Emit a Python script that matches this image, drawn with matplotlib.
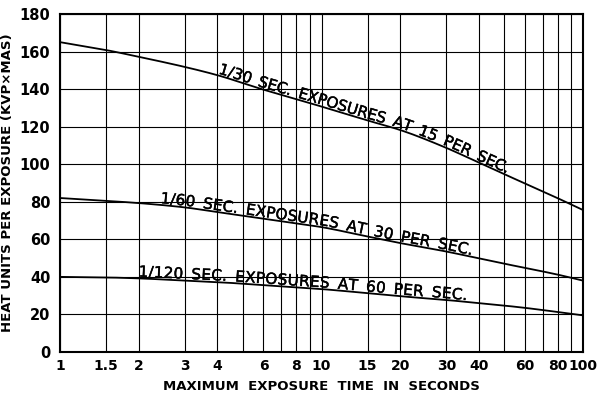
import numpy as np
import matplotlib
matplotlib.use("Agg")
import matplotlib.pyplot as plt
import matplotlib.patheffects as pe
from matplotlib.font_manager import FontProperties

# Maximum exposure time (s) and heat units per exposure for each cine rate
exposure_time = [1, 1.5, 2, 3, 4, 6, 8, 10, 15, 20, 30, 40, 50, 60, 80, 100]
hu_30_sec = [165, 160.8, 157.2, 151.8, 147.4, 139.7, 134.7, 130.7, 123.3, 118.2, 108.7, 100.8, 94.7, 89.7, 81.9, 75.6]
hu_60_sec = [82, 80.5, 79.3, 77, 74.5, 71, 68.5, 66.5, 61.5, 58, 53.5, 49.8, 47, 44.8, 41.2, 38]
hu_120_sec = [40, 39.7, 39.2, 38, 37.2, 35.6, 34.4, 33.5, 31.3, 29.7, 27.7, 26, 24.7, 23.5, 21.3, 19.5]

series_labels = [
    "1/30 SEC. EXPOSURES AT 15 PER SEC.",
    "1/60 SEC. EXPOSURES AT 30 PER SEC.",
    "1/120 SEC. EXPOSURES AT 60 PER SEC.",
]
# x range (s) covered by each curve label
label_spans = [(4.0, 51.0), (2.41, 37.5), (1.99, 36.0)]

x_grid = [1, 1.5, 2, 3, 4, 5, 6, 7, 8, 9, 10, 15, 20, 30, 40, 50, 60, 70, 80, 90, 100]
x_tick_labels = ["1", "1.5", "2", "3", "4", "", "6", "", "8", "", "10", "15", "20",
                 "30", "40", "", "60", "", "80", "", "100"]
y_ticks = [0, 20, 40, 60, 80, 100, 120, 140, 160, 180]


def smooth_curve(xs, ys, n=400):
    """Monotone cubic (Fritsch-Carlson) interpolation in log-x."""
    lx = np.log10(np.asarray(xs, float))
    y = np.asarray(ys, float)
    h = np.diff(lx)
    d = np.diff(y) / h
    m = np.zeros_like(y)
    m[0], m[-1] = d[0], d[-1]
    for k in range(1, len(y) - 1):
        if d[k - 1] * d[k] <= 0:
            m[k] = 0.0
        else:
            w1 = 2 * h[k] + h[k - 1]
            w2 = h[k] + 2 * h[k - 1]
            m[k] = (w1 + w2) / (w1 / d[k - 1] + w2 / d[k])
    gx = np.linspace(lx[0], lx[-1], n)
    idx = np.clip(np.searchsorted(lx, gx) - 1, 0, len(lx) - 2)
    t = (gx - lx[idx]) / h[idx]
    h00 = 2 * t**3 - 3 * t**2 + 1
    h10 = t**3 - 2 * t**2 + t
    h01 = -2 * t**3 + 3 * t**2
    h11 = t**3 - t**2
    gy = h00 * y[idx] + h10 * h[idx] * m[idx] + h01 * y[idx + 1] + h11 * h[idx] * m[idx + 1]
    return 10 ** gx, gy


fig = plt.figure(figsize=(6, 3.95), dpi=100)
ax = fig.add_axes([0.1, 0.1089, 0.8717, 0.8557])
ax.set_xscale("log")
ax.set_xlim(1, 100)
ax.set_ylim(0, 180)

ax.set_xticks(x_grid)
ax.set_xticklabels(x_tick_labels)
ax.xaxis.set_minor_locator(matplotlib.ticker.NullLocator())
ax.set_yticks(y_ticks)
ax.tick_params(axis="both", length=0, labelsize=10)
ax.tick_params(axis="y", labelsize=10.5)
ax.tick_params(axis="x", pad=5)
ax.tick_params(axis="y", pad=7)
for lab in ax.get_xticklabels() + ax.get_yticklabels():
    lab.set_fontweight("bold")

ax.grid(True, which="major", color="black", lw=0.8)
ax.set_axisbelow(True)
for sp in ax.spines.values():
    sp.set_linewidth(1.5)

ax.set_xlabel("MAXIMUM  EXPOSURE  TIME  IN  SECONDS", fontsize=9.5, fontweight="bold", labelpad=5)
ax.set_ylabel("HEAT UNITS PER EXPOSURE (KVP×MAS)", fontsize=9.5, fontweight="bold", labelpad=4)

curves = [hu_30_sec, hu_60_sec, hu_120_sec]
for ys in curves:
    sx, sy = smooth_curve(exposure_time, ys)
    ax.plot(sx, sy, color="black", lw=1.3)


def label_along(ax, xs, ys, text, x_start, x_end, lift, fp):
    """Write text letter by letter so that it rides along a curve."""
    renderer = ax.figure.canvas.get_renderer()
    cx, cy = smooth_curve(xs, ys, 2000)
    keep = (cx >= x_start) & (cx <= x_end)
    pts = ax.transData.transform(np.column_stack([cx[keep], cy[keep]]))
    seg = np.hypot(*np.diff(pts, axis=0).T)
    arc = np.concatenate([[0.0], np.cumsum(seg)])
    widths = np.array([renderer.get_text_width_height_descent(c, fp, ismath=False)[0]
                       for c in text])
    widths[np.array([c == " " for c in text])] *= 1.6
    scale = arc[-1] / widths.sum()
    centers = (np.cumsum(widths) - widths / 2) * scale
    inv = ax.transData.inverted()
    for c, s in zip(text, centers):
        if c == " ":
            continue
        i = int(np.clip(np.searchsorted(arc, s), 1, len(arc) - 1))
        p0, p1 = pts[i - 1], pts[i]
        t = (s - arc[i - 1]) / max(arc[i] - arc[i - 1], 1e-9)
        p = p0 + t * (p1 - p0)
        ang = np.arctan2(p1[1] - p0[1], p1[0] - p0[0])
        q = p + lift * np.array([-np.sin(ang), np.cos(ang)])
        xd, yd = inv.transform(q)
        ax.text(xd, yd, c, rotation=np.degrees(ang), rotation_mode="anchor",
                ha="center", va="baseline", fontproperties=fp,
                path_effects=[pe.withStroke(linewidth=0.3, foreground="black")])


label_fp = FontProperties(family="DejaVu Sans", size=11)
for ys, text, (xa, xb) in zip(curves, series_labels, label_spans):
    label_along(ax, exposure_time, ys, text, xa, xb, 1.8, label_fp)

fig.savefig("out.png", dpi=100)
